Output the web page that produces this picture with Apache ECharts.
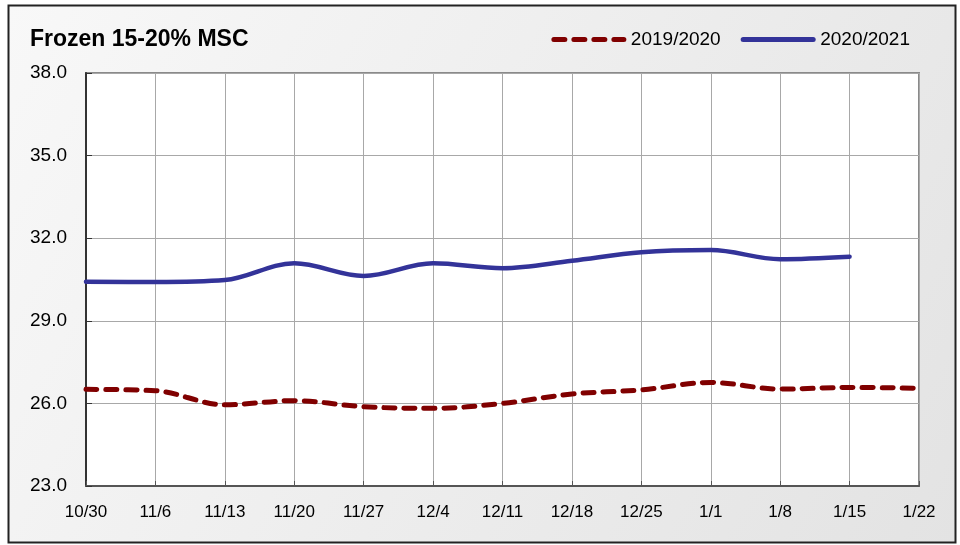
<!DOCTYPE html>
<html>
<head>
<meta charset="utf-8">
<script src="https://cdn.jsdelivr.net/npm/echarts@6/dist/echarts.min.js"></script>
<style>html,body{margin:0;padding:0;background:#fff}#c{width:960px;height:545px}</style>
</head>
<body>
<div id="c"></div>
<script>
var categories = ['10/30','11/6','11/13','11/20','11/27','12/4','12/11','12/18','12/25','1/1','1/8','1/15','1/22'];
var s2019 = [26.51,26.46,25.95,26.10,25.88,25.82,26.00,26.34,26.49,26.76,26.52,26.58,26.55];
var s2020 = [30.42,30.41,30.48,31.09,30.63,31.09,30.91,31.18,31.49,31.57,31.24,31.33,null];
var yTicks = {min:23, max:38, interval:3};
var title = 'Frozen 15-20% MSC';
var names = ['2019/2020','2020/2021'];

var chart = echarts.init(document.getElementById('c'), null, {renderer:'canvas'});
chart.setOption({
  animation:false,
  graphic:[{
    type:'rect', z:-10, silent:true,
    shape:{x:8.5,y:5.5,width:947,height:537},
    style:{
      fill:new echarts.graphic.LinearGradient(0,0,1,1,[{offset:0,color:'#f8f8f8'},{offset:1,color:'#e3e3e3'}]),
      stroke:'#222', lineWidth:2
    }
  }],
  title:{
    text:title, left:25, top:23,
    textStyle:{fontFamily:'Liberation Sans, Arial, sans-serif', fontWeight:'bold', fontSize:23, color:'#000'}
  },
  legend:{
    top:25, right:45, itemGap:20, itemWidth:70, itemHeight:14,
    lineStyle:{width:5},
    itemStyle:{opacity:0},
    textStyle:{fontFamily:'Liberation Sans, Arial, sans-serif', fontSize:19, color:'#000', padding:[0,0,0,2]},
    data:[names[0], names[1]]
  },
  grid:{left:86, right:41, top:73, bottom:59, show:true, backgroundColor:'#fff', borderColor:'#8a8a8a', borderWidth:2},
  xAxis:{
    type:'category', data:categories, boundaryGap:false,
    axisLine:{lineStyle:{color:'#555', width:2}},
    axisTick:{inside:true, length:5, lineStyle:{color:'#555'}},
    axisLabel:{margin:18, fontSize:17, color:'#000', fontFamily:'Liberation Sans, Arial, sans-serif'},
    splitLine:{show:true, lineStyle:{color:'#a8a8a8', width:1}}
  },
  yAxis:{
    type:'value', min:yTicks.min, max:yTicks.max, interval:yTicks.interval,
    axisLine:{show:true, lineStyle:{color:'#333', width:2}},
    axisTick:{show:true, inside:true, length:6, lineStyle:{color:'#333'}},
    axisLabel:{margin:19, fontSize:19, color:'#000', fontFamily:'Liberation Sans, Arial, sans-serif',
      formatter:function(v){return v.toFixed(1);}},
    splitLine:{show:true, lineStyle:{color:'#a8a8a8', width:1}}
  },
  series:[
    {name:names[0], type:'line', data:s2019, smooth:0.35, showSymbol:false, symbol:'none',
      itemStyle:{color:'#800000'},
      lineStyle:{color:'#800000', width:5, type:[11,9], cap:'round'}},
    {name:names[1], type:'line', data:s2020, smooth:0.35, showSymbol:false, symbol:'none',
      itemStyle:{color:'#333399'},
      lineStyle:{color:'#333399', width:4.5, cap:'round'}}
  ]
});
</script>
</body>
</html>
